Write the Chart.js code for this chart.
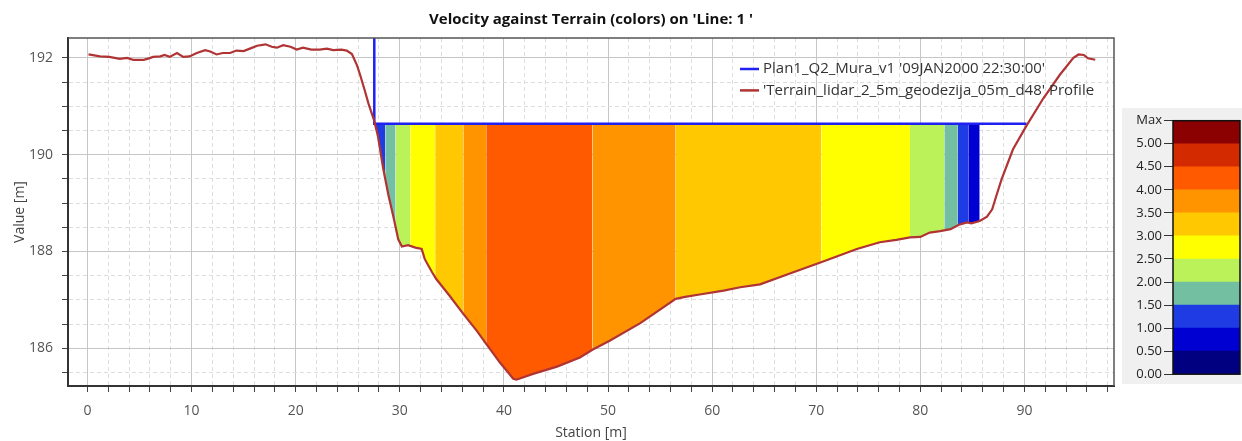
<!DOCTYPE html>
<html>
<head>
<meta charset="utf-8">
<script src="https://cdn.jsdelivr.net/npm/chart.js@4.4.1/dist/chart.umd.min.js"></script>
<style>
  body { margin: 0; background: #fff; }
  #wrap { position: relative; width: 1242px; height: 441px; }
  #profile { position: absolute; left: 0; top: 0; }
  #scale { position: absolute; left: 1122px; top: 108px; background: #f0f0f0; }
</style>
</head>
<body>
<div id="wrap">
  <canvas id="profile" width="1242" height="441"></canvas>
  <canvas id="scale" width="120" height="276"></canvas>
</div>
<script>
// terrain profile (station [m], elevation [m])
var terrainStation = [0.1, 1.2, 2.1, 3.1, 3.8, 4.4, 5.4, 5.9, 6.3, 7.0, 7.4, 7.9, 8.6, 9.2, 9.8,
  10.5, 11.3, 11.8, 12.4, 13.0, 13.7, 14.3, 15.0, 15.6, 16.3, 17.1, 17.7, 18.2, 18.8, 19.5,
  20.1, 20.7, 21.5, 22.3, 23.0, 23.6, 24.4, 24.9, 25.4, 25.9, 26.2, 26.6, 27.0, 27.5, 27.9,
  28.4, 28.9, 29.4, 29.85, 30.2, 30.8, 31.5, 32.1, 32.4, 33.1, 33.5, 34.8, 36.1, 37.4, 38.3,
  39.6, 40.9, 41.2, 42.8, 45.1, 47.3, 48.5, 50.2, 53.1, 56.5, 57.4, 58.8, 61.1, 62.7, 64.6,
  67.8, 70.4, 73.9, 76.1, 77.7, 79.0, 80.0, 80.9, 81.9, 82.9, 83.8, 84.5, 84.9, 85.7, 86.4,
  86.9, 87.3, 87.8, 88.9, 90.2, 91.8, 93.4, 94.7, 95.2, 95.7, 96.1, 96.8];
var terrainElev = [192.07, 192.03, 192.02, 191.98, 192.0, 191.96, 191.96, 191.99, 192.02, 192.03, 192.06, 192.02, 192.1, 192.02, 192.03,
  192.1, 192.16, 192.13, 192.07, 192.1, 192.1, 192.15, 192.14, 192.19, 192.25, 192.28, 192.23, 192.21, 192.26, 192.23,
  192.17, 192.21, 192.17, 192.17, 192.19, 192.16, 192.17, 192.15, 192.08, 191.84, 191.64, 191.35, 191.05, 190.73, 190.38,
  189.72, 189.17, 188.7, 188.25, 188.1, 188.13, 188.08, 188.05, 187.84, 187.57, 187.43, 187.08, 186.71, 186.36, 186.09,
  185.71, 185.37, 185.35, 185.47, 185.62, 185.81, 185.97, 186.16, 186.52, 187.02, 187.06, 187.11, 187.19, 187.26, 187.32,
  187.57, 187.77, 188.05, 188.19, 188.24, 188.29, 188.3, 188.39, 188.42, 188.46, 188.56, 188.6, 188.58, 188.63, 188.72,
  188.87, 189.15, 189.49, 190.11, 190.6, 191.16, 191.65, 192.0, 192.07, 192.06, 191.99, 191.96];

// water surface
var wsStation = [27.55, 27.55, 90.2];
var wsElev = [192.41, 190.64, 190.64];

// velocity bands: edges along the station axis and velocity [m/s] inside each band
var bandEdges = [27.55, 28.6, 29.6, 31.0, 33.4, 36.1, 38.3, 48.5, 56.5, 70.5, 79.0, 82.3, 83.6, 84.6, 85.7];
var bandVelocity = [1.25, 1.75, 2.25, 2.75, 3.25, 3.75, 4.25, 3.75, 3.25, 2.75, 2.25, 1.75, 1.25, 0.75];

// colour scale
var legendLabels = ['0.00', '0.50', '1.00', '1.50', '2.00', '2.50', '3.00', '3.50', '4.00', '4.50', '5.00', 'Max'];
var legendColors = ['#000080', '#0000d2', '#1f3ce4', '#72bfa2', '#bbf25a', '#ffff00', '#ffc800', '#ff9400', '#ff5a00', '#d42a00', '#8b0000'];
var classStep = 0.5;

function velColor(v) {
  var i = Math.min(Math.floor(v / classStep), legendColors.length - 1);
  return legendColors[i];
}

function isMult(v, m) {
  return Math.abs(v / m - Math.round(v / m)) < 1e-6;
}

var frame = {
  id: 'frame',
  afterDatasetsDraw: function (chart) {
    var a = chart.chartArea, ctx = chart.ctx;
    ctx.save();
    ctx.strokeStyle = '#555';
    ctx.lineWidth = 1.5;
    ctx.beginPath();
    ctx.moveTo(a.left, a.top);
    ctx.lineTo(a.right, a.top);
    ctx.lineTo(a.right, a.bottom);
    ctx.stroke();
    ctx.restore();
  }
};

// legend drawn inside the plot, top right
var insideLegend = {
  id: 'insideLegend',
  afterDraw: function (chart) {
    var a = chart.chartArea, ctx = chart.ctx;
    var items = [chart.data.datasets[1], chart.data.datasets[0]];
    ctx.save();
    ctx.font = '15px "Open Sans"';
    ctx.textBaseline = 'middle';
    ctx.fillStyle = '#333';
    items.forEach(function (ds, i) {
      var x = a.right - 374;
      var y = a.top + 31 + i * 21.4;
      ctx.strokeStyle = ds.borderColor;
      ctx.lineWidth = 2.5;
      ctx.beginPath();
      ctx.moveTo(x, y);
      ctx.lineTo(x + 19, y);
      ctx.stroke();
      ctx.fillText(ds.label, x + 23, y);
    });
    ctx.restore();
  }
};

var tickFont = { family: 'Open Sans', size: 14 };

var profileChart = new Chart(document.getElementById('profile'), {
  type: 'line',
  data: {
    datasets: [{
      label: "'Terrain_lidar_2_5m_geodezija_05m_d48' Profile",
      data: terrainStation.map(function (x, i) { return { x: x, y: terrainElev[i] }; }),
      borderColor: '#b03434',
      borderWidth: 2.2,
      pointRadius: 0,
      fill: false,
      order: 1
    }, {
      label: "Plan1_Q2_Mura_v1 '09JAN2000 22:30:00'",
      data: wsStation.map(function (x, i) { return { x: x, y: wsElev[i] }; }),
      borderColor: '#2020f0',
      borderWidth: 2.5,
      pointRadius: 0,
      fill: false,
      order: 2
    }, {
      label: 'velocity',
      data: bandEdges.map(function (x) { return { x: x, y: wsElev[wsElev.length - 1] }; }),
      borderColor: 'transparent',
      borderWidth: 0,
      pointRadius: 0,
      backgroundColor: velColor(bandVelocity[0]),
      fill: { target: 0 },
      segment: {
        backgroundColor: function (ctx) { return velColor(bandVelocity[ctx.p0DataIndex]); }
      },
      order: 3
    }]
  },
  options: {
    responsive: false,
    animation: false,
    devicePixelRatio: 1,
    layout: { padding: { left: 0, right: 128, top: 0, bottom: 0 } },
    plugins: {
      legend: { display: false },
      tooltip: { enabled: false },
      title: {
        display: true,
        fullSize: false,
        text: "Velocity against Terrain (colors) on 'Line: 1 '",
        color: '#111',
        font: { family: 'Open Sans', size: 15, weight: 'bold' },
        padding: { top: 11, bottom: 9.0 }
      }
    },
    scales: {
      x: {
        type: 'linear',
        min: -1.87,
        max: 98.6,
        ticks: {
          stepSize: 2,
          includeBounds: false,
          autoSkip: false,
          maxRotation: 0,
          padding: 11,
          color: '#555',
          font: tickFont,
          callback: function (v) { return isMult(v, 10) ? v : ''; }
        },
        grid: {
          color: function (c) { return c.tick && isMult(c.tick.value, 10) ? '#c6c6c6' : '#dddddd'; },
          lineWidth: 1,
          tickLength: 6,
          tickColor: '#444'
        },
        border: {
          color: '#333',
          width: 2,
          dash: function (c) { return c.tick && !isMult(c.tick.value, 10) ? [4, 3] : []; }
        },
        title: { display: true, text: 'Station [m]', color: '#444', font: tickFont, padding: { top: 0, bottom: 0 } },
        afterFit: function (s) { s.height = 55; }
      },
      y: {
        min: 185.22,
        max: 192.41,
        ticks: {
          stepSize: 0.5,
          includeBounds: false,
          autoSkip: false,
          padding: 9,
          color: '#555',
          font: tickFont,
          callback: function (v) { return isMult(v, 2) ? v : ''; }
        },
        grid: {
          color: function (c) { return c.tick && isMult(c.tick.value, 2) ? '#c6c6c6' : '#dddddd'; },
          lineWidth: 1,
          tickLength: 6,
          tickColor: '#444'
        },
        border: {
          color: '#333',
          width: 2,
          dash: function (c) { return c.tick && !isMult(c.tick.value, 2) ? [4, 3] : []; }
        },
        title: { display: true, text: 'Value [m]', color: '#444', font: tickFont, padding: { top: 11.6, bottom: 0 } },
        afterFit: function (s) { s.width = 68; }
      }
    }
  },
  plugins: [frame, insideLegend]
});

// colour scale bar
var outline = {
  id: 'outline',
  afterDatasetsDraw: function (chart) {
    var a = chart.chartArea, ctx = chart.ctx;
    ctx.save();
    ctx.strokeStyle = '#111';
    ctx.lineWidth = 1.5;
    ctx.strokeRect(a.left, a.top, a.right - a.left, a.bottom - a.top);
    ctx.restore();
  }
};

var scaleChart = new Chart(document.getElementById('scale'), {
  type: 'bar',
  data: {
    labels: [''],
    datasets: legendColors.map(function (c) {
      return { data: [classStep], backgroundColor: c, borderWidth: 0, barPercentage: 1, categoryPercentage: 1 };
    })
  },
  options: {
    responsive: false,
    animation: false,
    devicePixelRatio: 1,
    layout: { padding: { left: 0, right: 2, top: 12.7, bottom: 8.7 } },
    plugins: { legend: { display: false }, tooltip: { enabled: false } },
    scales: {
      x: { stacked: true, display: false },
      y: {
        stacked: true,
        min: 0,
        max: classStep * legendColors.length,
        ticks: {
          stepSize: classStep,
          padding: 2,
          color: '#222',
          font: { family: 'Open Sans', size: 13 },
          callback: function (v, i) { return legendLabels[i]; }
        },
        grid: { drawOnChartArea: false, tickLength: 9, tickColor: '#333' },
        border: { display: false },
        afterFit: function (s) { s.width = 51; }
      }
    }
  },
  plugins: [outline]
});
</script>
</body>
</html>
